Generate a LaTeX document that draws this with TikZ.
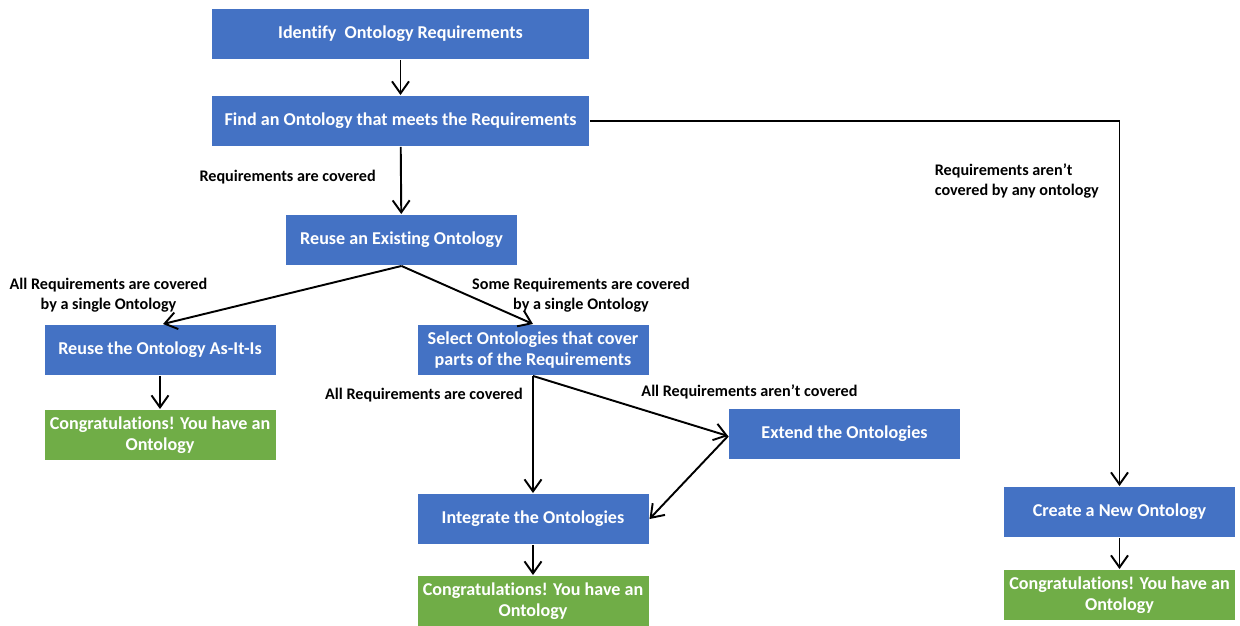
\documentclass[tikz,border=0pt]{standalone}
\usepackage{fontspec}
\setmainfont{Carlito}[Ligatures=NoCommon]
\usetikzlibrary{arrows.meta}
\definecolor{boxblue}{HTML}{4472C4}
\definecolor{boxgreen}{HTML}{70AD47}

\begin{document}
\begin{tikzpicture}[line width=1.1pt, >={Straight Barb[length=2.4mm,width=3.4mm]},
  step box/.style = {fill=boxblue, draw=none, text=white, font=\bfseries\fontsize{10.3}{12}\selectfont, align=center, minimum height=1cm, inner sep=2pt},
  wide/.style = {minimum width=7.54cm},
  narrow/.style = {minimum width=4.62cm},
  done/.style = {step box, fill=boxgreen},
  lbl/.style = {font=\bfseries\fontsize{9.2}{11.2}\selectfont, align=center, inner sep=1pt}]
  \useasboundingbox (0,0) rectangle (24.8,-12.5);

  \node[step box, wide] (ident) at (8.01,-0.68) {Identify~ Ontology Requirements};
  \node[step box, wide] (find) at (8.01,-2.42) {Find an Ontology that meets the Requirements};
  \node[step box, narrow] (reuse) at (8.03,-4.80) {Reuse an Existing Ontology};
  \node[step box, narrow] (asis) at (3.20,-7.00) {Reuse the Ontology As-It-Is};
  \node[done, narrow] (done1) at (3.20,-8.70) {Congratulations! You have an\\Ontology};
  \node[step box, narrow] (select) at (10.66,-7.00) {Select Ontologies that cover\\parts of the Requirements};
  \node[step box, narrow] (extend) at (16.89,-8.68) {Extend the Ontologies};
  \node[step box, narrow] (integ) at (10.66,-10.38) {Integrate the Ontologies};
  \node[done, narrow] (done2) at (10.66,-12.02) {Congratulations! You have an\\Ontology};
  \node[step box, narrow] (create) at (22.39,-10.24) {Create a New Ontology};
  \node[done, narrow] (done3) at (22.39,-11.90) {Congratulations! You have an\\Ontology};

  \draw[->] (ident) -- (find);
  \draw[->] (find) -- node[lbl, left=0.45cm, pos=0.45] {Requirements are covered} (reuse);
  \draw[->] (find.east) -| node[lbl, align=left, anchor=east, pos=0.582, xshift=-0.36cm] {Requirements aren't\\covered by any ontology} (create.north);
  \draw[->] (reuse.south) -- ([xshift=0.06cm]asis.north);
  \draw[->] (reuse.south) -- (select.north);
  \node[lbl] at (2.17,-5.91) {All Requirements are covered\\by a single Ontology};
  \node[lbl] at (11.62,-5.91) {Some Requirements are covered\\by a single Ontology};
  \draw[->] (asis) -- (done1);
  \draw[->] (select.south) -- (integ.north);
  \node[lbl] at (8.48,-7.90) {All Requirements are covered};
  \draw[->] (select.south) -- ([yshift=-0.04cm]extend.west);
  \node[lbl] at (14.99,-7.83) {All Requirements aren't covered};
  \draw[->] ([yshift=-0.04cm]extend.west) -- (integ.east);
  \draw[->] (integ) -- (done2);
  \draw[->] (create) -- (done3);
\end{tikzpicture}
\end{document}
